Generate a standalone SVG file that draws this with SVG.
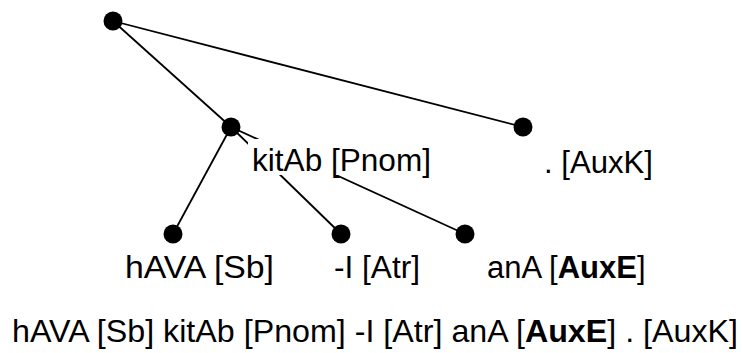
<svg xmlns="http://www.w3.org/2000/svg" width="743" height="353" viewBox="0 0 743 353">
<style>
  text { font-family: "Liberation Sans", Arial, Helvetica, sans-serif; font-size: 32px; fill: #000; }
  .edge { stroke: #000; stroke-width: 1.8; fill: none; }
  .dot { fill: #000; }
  .bg { fill: #fff; }
  .b { font-weight: bold; }
</style>
<rect width="743" height="353" fill="#fff"/>
<g id="connectors">
  <line class="edge" x1="113" y1="21" x2="231" y2="127"/>
  <line class="edge" x1="113" y1="21" x2="523" y2="127"/>
  <line class="edge" x1="231" y1="127" x2="173" y2="234"/>
  <line class="edge" x1="231" y1="127" x2="341" y2="234"/>
  <line class="edge" x1="231" y1="127" x2="465" y2="234"/>
</g>
<g id="node-root">
  <circle class="dot" cx="113" cy="21" r="9.5"/>
</g>
<g id="node-kitAb">
  <circle class="dot" cx="231" cy="127" r="9.5"/>
  <rect class="bg" x="248" y="139" width="187" height="36"/>
  <text x="252" y="171" textLength="179" lengthAdjust="spacingAndGlyphs">kitAb [Pnom]</text>
</g>
<g id="node-AuxK">
  <circle class="dot" cx="523" cy="127" r="9.5"/>
  <text x="544" y="173" textLength="109" lengthAdjust="spacingAndGlyphs">. [AuxK]</text>
</g>
<g id="node-hAVA">
  <circle class="dot" cx="173" cy="234" r="9.5"/>
  <text x="125" y="278" textLength="149" lengthAdjust="spacingAndGlyphs">hAVA [Sb]</text>
</g>
<g id="node-I">
  <circle class="dot" cx="341" cy="234" r="9.5"/>
  <text x="334" y="278" textLength="86" lengthAdjust="spacingAndGlyphs">-I [Atr]</text>
</g>
<g id="node-anA">
  <circle class="dot" cx="465" cy="234" r="9.5"/>
  <text x="487" y="278" style="font-size:31px">anA [<tspan class="b">AuxE</tspan>]</text>
</g>
<g id="sentence">
  <text x="12" y="342" textLength="726" lengthAdjust="spacingAndGlyphs">hAVA [Sb] kitAb [Pnom] -I [Atr] anA [<tspan class="b">AuxE</tspan>] . [AuxK]</text>
</g>
</svg>
